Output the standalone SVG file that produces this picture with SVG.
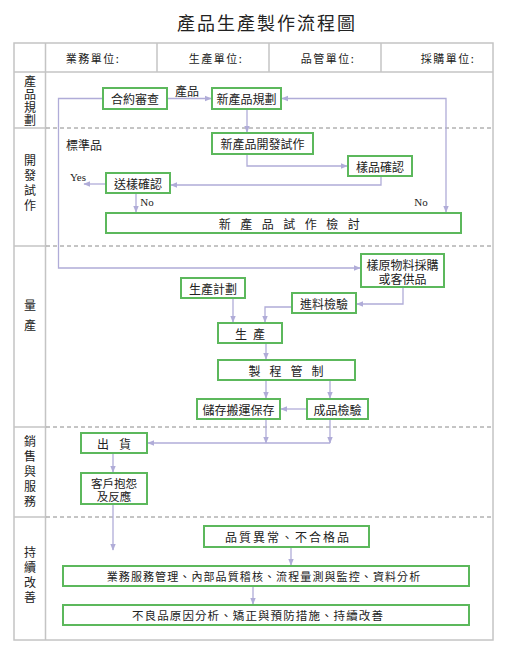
<svg xmlns="http://www.w3.org/2000/svg" width="508" height="655" viewBox="0 0 508 655">
<style>
text{font-family:"Noto Sans CJK TC","Noto Sans CJK SC",sans-serif;fill:#222;font-size:12px;dominant-baseline:central;text-anchor:middle}
.en{font-family:"Liberation Serif",serif;font-size:11px}
.v{writing-mode:vertical-rl}
.box{fill:#fff;stroke:#5cb85c;stroke-width:2}
.grid{stroke:#c4c4c4;stroke-width:1.5;fill:none}
.dash{stroke:#8a8a8a;stroke-width:1;stroke-dasharray:4,3;fill:none}
.ca{stroke:#b0acd8;stroke-width:1.3;fill:none;marker-end:url(#ah)}
</style>
<defs>
<marker id="ah" viewBox="0 0 10 10" refX="9" refY="5" markerWidth="7" markerHeight="7" markerUnits="userSpaceOnUse" orient="auto-start-reverse">
<path d="M0,1 L10,5 L0,9 Z" fill="#b0acd8"/>
</marker>
</defs>
<rect width="508" height="655" fill="#fff"/>
<text x="267" y="22" style="font-size:18px;letter-spacing:2px">產品生產製作流程圖</text>
<g id="table">
<rect class="grid" x="14" y="43" width="479" height="597"/>
<line class="grid" x1="14" y1="72" x2="493" y2="72"/>
<line class="grid" x1="45.5" y1="43" x2="45.5" y2="640"/>
<line class="grid" x1="157" y1="43" x2="157" y2="72"/>
<line class="grid" x1="269" y1="43" x2="269" y2="72"/>
<line class="grid" x1="381" y1="43" x2="381" y2="72"/>
<line class="grid" x1="14" y1="128" x2="45.5" y2="128"/>
<line class="grid" x1="14" y1="246" x2="45.5" y2="246"/>
<line class="grid" x1="14" y1="427" x2="45.5" y2="427"/>
<line class="grid" x1="14" y1="517" x2="45.5" y2="517"/>
<line class="dash" x1="46" y1="128" x2="493" y2="128"/>
<line class="dash" x1="46" y1="246" x2="493" y2="246"/>
<line class="dash" x1="46" y1="427" x2="493" y2="427"/>
<line class="dash" x1="46" y1="517" x2="493" y2="517"/>
<g style="letter-spacing:1.5px">
<text x="93" y="58" style="font-size:11px">業務單位:</text>
<text x="216" y="58" style="font-size:11px">生產單位:</text>
<text x="328" y="58" style="font-size:11px">品管單位:</text>
<text x="448" y="58" style="font-size:11px">採購單位:</text>
</g>
<text class="v" x="30" y="101" style="letter-spacing:1px">產品規劃</text>
<text class="v" x="30" y="184" style="letter-spacing:3px">開發試作</text>
<text class="v" x="30" y="319" style="letter-spacing:8px">量產</text>
<text class="v" x="30" y="473" style="letter-spacing:3px">銷售與服務</text>
<text class="v" x="30" y="576" style="letter-spacing:3px">持續改善</text>
</g>
<g id="connectors">
<line class="ca" x1="167" y1="98.5" x2="211" y2="98.5"/>
<polyline class="ca" points="103,98.5 58.5,98.5 58.5,268 360,268"/>
<polyline class="ca" style="marker-start:url(#ah)" points="282,98.5 446,98.5 446,212"/>
<line class="ca" x1="247" y1="109" x2="247" y2="132"/>
<polyline class="ca" points="247,154 247,166 347,166"/>
<polyline class="ca" points="381,176 381,185 171,185"/>
<line class="ca" x1="106" y1="184" x2="84" y2="184"/>
<line class="ca" x1="136" y1="193" x2="136" y2="212"/>
<polyline class="ca" points="403,287 403,304 357,304"/>
<line class="ca" x1="233" y1="298" x2="233" y2="322"/>
<polyline class="ca" points="292,307 265,307 265,322"/>
<line class="ca" x1="266" y1="343" x2="266" y2="359"/>
<line class="ca" x1="266" y1="380" x2="266" y2="398"/>
<line class="ca" x1="330" y1="380" x2="330" y2="398"/>
<line class="ca" x1="307" y1="409" x2="281" y2="409"/>
<line class="ca" x1="266" y1="419" x2="266" y2="443"/>
<line class="ca" x1="330" y1="419" x2="330" y2="443"/>
<line class="ca" x1="330" y1="443" x2="148" y2="443"/>
<line class="ca" x1="113" y1="453" x2="113" y2="472"/>
<line class="ca" x1="113" y1="504" x2="113" y2="550"/>
<line class="ca" x1="291" y1="547" x2="291" y2="565"/>
<line class="ca" x1="253" y1="586" x2="253" y2="604"/>
</g>
<g id="labels">
<text x="187" y="90">產品</text>
<text x="84" y="144">標準品</text>
<text class="en" x="78" y="177">Yes</text>
<text class="en" x="147" y="202">No</text>
<text class="en" x="421" y="202">No</text>
</g>
<g id="n1"><rect class="box" x="103" y="88" width="64" height="21"/><text x="135" y="98.5">合約審查</text></g>
<g id="n2"><rect class="box" x="212" y="88" width="69" height="21"/><text x="246.5" y="98.5">新產品規劃</text></g>
<g id="n3"><rect class="box" x="212" y="133" width="101" height="21"/><text x="262.5" y="143.5">新產品開發試作</text></g>
<g id="n4"><rect class="box" x="348" y="156" width="64" height="20"/><text x="380" y="166">樣品確認</text></g>
<g id="n5"><rect class="box" x="106" y="173" width="64" height="20"/><text x="138" y="183">送樣確認</text></g>
<g id="n6"><rect class="box" x="106" y="213" width="355" height="20"/><text x="294" y="223" style="letter-spacing:9.5px">新產品試作檢討</text></g>
<g id="n7"><rect class="box" x="361" y="254" width="83" height="33"/><text x="402.5" y="264"><tspan x="402.5" y="264">樣原物料採購</tspan><tspan x="402.5" y="278">或客供品</tspan></text></g>
<g id="n8"><rect class="box" x="181" y="278" width="64" height="20"/><text x="213" y="288">生產計劃</text></g>
<g id="n9"><rect class="box" x="292" y="293" width="64" height="20"/><text x="324" y="303">進料檢驗</text></g>
<g id="n10"><rect class="box" x="218" y="323" width="64" height="20"/><text x="253" y="333" style="letter-spacing:6px">生產</text></g>
<g id="n11"><rect class="box" x="218" y="360" width="137" height="20"/><text x="290.5" y="370" style="letter-spacing:9px">製程管制</text></g>
<g id="n12"><rect class="box" x="197" y="399" width="83" height="20"/><text x="238.5" y="409">儲存搬運保存</text></g>
<g id="n13"><rect class="box" x="307" y="399" width="61" height="20"/><text x="337.5" y="409">成品檢驗</text></g>
<g id="n14"><rect class="box" x="81" y="433" width="66" height="20"/><text x="119" y="443" style="letter-spacing:10px">出貨</text></g>
<g id="n15"><rect class="box" x="81" y="473" width="66" height="31"/><text x="114" y="482.5" style="font-size:11.5px"><tspan x="114" y="482.5">客戶抱怨</tspan><tspan x="114" y="496">及反應</tspan></text></g>
<g id="n16"><rect class="box" x="204" y="526" width="165" height="21"/><text x="288" y="536.5" style="letter-spacing:2px">品質異常、不合格品</text></g>
<g id="n17"><rect class="box" x="63" y="566" width="406" height="20"/><text x="264" y="576" style="font-size:11px;letter-spacing:1.1px">業務服務管理、內部品質稽核、流程量測與監控、資料分析</text></g>
<g id="n18"><rect class="box" x="63" y="605" width="406" height="20"/><text x="258" y="615" style="font-size:11.5px;letter-spacing:1.1px">不良品原因分析、矯正與預防措施、持續改善</text></g>
</svg>
